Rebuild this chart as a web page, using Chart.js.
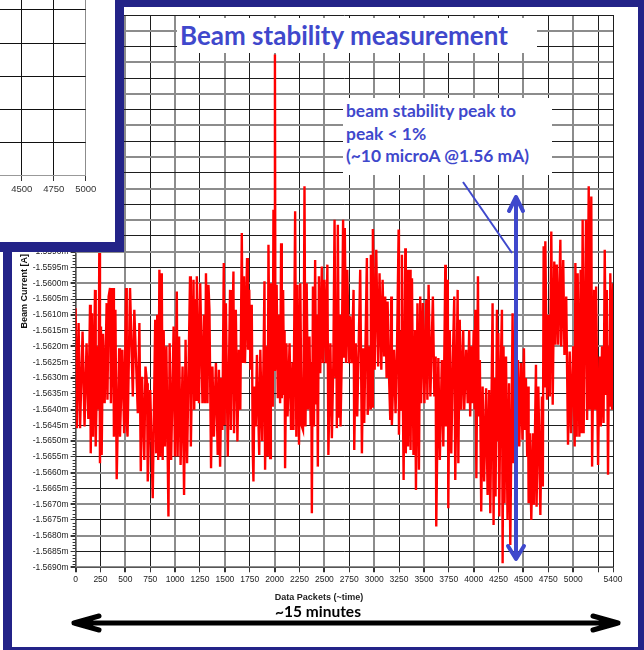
<!DOCTYPE html>
<html>
<head>
<meta charset="utf-8">
<script src="https://cdn.jsdelivr.net/npm/chart.js@4.4.0/dist/chart.umd.min.js"></script>
<style>
  html, body { margin: 0; padding: 0; }
  body { width: 644px; height: 650px; position: relative; overflow: hidden; background: #fff; }
  #frame { position: absolute; left: 3px; top: 0; width: 641px; height: 650px; background: #232388; }
  #panel { position: absolute; left: 9px; top: 7px; width: 626px; height: 640px; background: #fff; }
  #main { position: absolute; left: 0; top: 0; }
  #inset { position: absolute; left: 0; top: 0; width: 115px; height: 242px; background: #fff;
           border-right: 9px solid #232388; border-bottom: 10px solid #232388; overflow: hidden; }
  #insetChart { position: absolute; left: -60px; top: -40px; }
  .box { position: absolute; background: #fff; color: #3f48cc; font-family: 'Lato', 'Noto Sans', sans-serif;
         font-weight: bold; box-sizing: border-box; white-space: nowrap; }
  #title { left: 177px; top: 18px; width: 360px; height: 35px; font-size: 26px; line-height: 35px; padding-left: 3px; }
  #note { left: 343px; top: 98px; width: 209px; height: 77px; font-size: 17.4px; line-height: 22.5px; padding: 2px 0 0 3px; }
  .txt { position: absolute; white-space: nowrap; transform: translate(-50%, -50%); }
  #xtitle { left: 319px; top: 597px; font: bold 9px 'Liberation Sans', Arial, sans-serif; color: #222; }
  #duration { left: 318px; top: 611px; font: bold 15.5px 'Lato', 'Noto Sans', sans-serif; color: #000; }
</style>
</head>
<body>
<div id="frame"><div id="panel"></div></div>
<canvas id="main" width="644" height="650"></canvas>
<div id="inset"><canvas id="insetChart" width="160" height="240"></canvas></div>
<div class="box" id="title">Beam stability measurement</div>
<div class="box" id="note">beam stability peak to<br>peak &lt; 1%<br>(~10 microA @1.56 mA)</div>
<div class="txt" id="xtitle">Data Packets (~time)</div>
<div class="txt" id="duration">~15 minutes</div>
<script>
// data packet number and beam current (mA)
const packets = [
  0, 12, 30, 45, 70, 90, 110, 128, 145, 152,
  165, 175, 195, 202, 220, 230, 238, 245, 255, 262,
  275, 292, 312, 320, 332, 346, 355, 378, 385, 400,
  413, 438, 446, 470, 488, 507, 514, 522, 547, 575,
  590, 625, 641, 655, 668, 690, 702, 718, 725, 750,
  775, 800, 810, 820, 830, 842, 850, 866, 875, 885,
  898, 912, 933, 945, 960, 985, 998, 1017, 1025, 1040,
  1055, 1075, 1090, 1105, 1120, 1150, 1158, 1185, 1192, 1200,
  1210, 1218, 1240, 1252, 1275, 1290, 1300, 1310, 1325, 1335,
  1345, 1361, 1375, 1390, 1410, 1428, 1440, 1452, 1465, 1475,
  1489, 1497, 1510, 1529, 1552, 1560, 1586, 1592, 1610, 1626,
  1640, 1655, 1670, 1680, 1692, 1702, 1723, 1732, 1745, 1757,
  1770, 1780, 1787, 1797, 1810, 1822, 1845, 1856, 1875, 1888,
  1898, 1904, 1920, 1930, 1938, 1955, 1962, 1981, 1988, 1995,
  2003, 2008, 2020, 2032, 2045, 2055, 2065, 2072, 2085, 2095,
  2100, 2105, 2118, 2130, 2150, 2165, 2180, 2189, 2206, 2218,
  2230, 2245, 2258, 2270, 2285, 2292, 2300, 2310, 2322, 2335,
  2350, 2362, 2368, 2374, 2385, 2395, 2407, 2417, 2425, 2434,
  2445, 2458, 2474, 2485, 2500, 2515, 2530, 2540, 2560, 2575,
  2590, 2602, 2612, 2620, 2625, 2635, 2648, 2655, 2662, 2675,
  2688, 2698, 2705, 2718, 2730, 2748, 2760, 2775, 2793, 2800,
  2815, 2830, 2860, 2877, 2890, 2900, 2927, 2935, 2955, 2962,
  2967, 2980, 2987, 3005, 3021, 3040, 3054, 3072, 3085, 3100,
  3111, 3125, 3135, 3150, 3162, 3172, 3178, 3200, 3215, 3230,
  3246, 3249, 3262, 3270, 3279, 3288, 3296, 3313, 3318, 3336,
  3340, 3363, 3366, 3380, 3395, 3410, 3420, 3435, 3450, 3463,
  3472, 3490, 3505, 3524, 3535, 3547, 3565, 3590, 3605, 3618,
  3624, 3645, 3660, 3680, 3695, 3715, 3720, 3740, 3745, 3760,
  3775, 3790, 3805, 3815, 3839, 3846, 3860, 3875, 3895, 3905,
  3925, 3940, 3955, 3965, 3975, 3985, 4000, 4010, 4016, 4027,
  4043, 4050, 4062, 4076, 4090, 4105, 4125, 4140, 4155, 4167,
  4190, 4200, 4210, 4220, 4234, 4240, 4248, 4257, 4270, 4284,
  4291, 4300, 4310, 4325, 4340, 4355, 4368, 4391, 4400, 4415,
  4428, 4445, 4458, 4475, 4490, 4505, 4512, 4525, 4538, 4546,
  4552, 4565, 4579, 4595, 4605, 4626, 4632, 4650, 4670, 4686,
  4695, 4703, 4712, 4720, 4737, 4750, 4765, 4780, 4794, 4810,
  4822, 4835, 4850, 4871, 4880, 4900, 4912, 4930, 4948, 4965,
  4978, 5000, 5015, 5022, 5035, 5045, 5062, 5075, 5085, 5095,
  5105, 5129, 5140, 5156, 5165, 5182, 5190, 5210, 5220, 5230,
  5250, 5265, 5278, 5290, 5305, 5317, 5330, 5338, 5350, 5360,
  5366, 5373, 5390, 5400
];
const beamCurrent = [
  -1.56079, -1.56459, -1.56126, -1.56459, -1.56153, -1.56454, -1.56190, -1.56430, -1.56068, -1.56539,
  -1.56095, -1.56486, -1.56021, -1.56517, -1.56200, -1.56400, -1.55904, -1.56570, -1.56137, -1.56544,
  -1.56160, -1.56380, -1.56063, -1.56369, -1.56042, -1.56015, -1.56380, -1.56015, -1.56486, -1.56084,
  -1.56621, -1.56206, -1.56486, -1.56211, -1.56475, -1.56015, -1.56443, -1.56486, -1.56015, -1.56359,
  -1.56084, -1.56412, -1.56126, -1.56596, -1.56296, -1.56560, -1.56264, -1.56317, -1.56628, -1.56338,
  -1.56681, -1.56116, -1.56539, -1.56100, -1.56560, -1.55957, -1.56549, -1.55968, -1.56560, -1.56148,
  -1.56517, -1.56200, -1.56739, -1.56190, -1.56560, -1.56137, -1.56549, -1.56026, -1.56549, -1.56169,
  -1.56576, -1.56264, -1.56671, -1.56179, -1.56570, -1.55978, -1.56517, -1.55989, -1.56401, -1.56050,
  -1.56369, -1.55978, -1.56380, -1.56000, -1.56380, -1.56100, -1.56380, -1.55968, -1.56380, -1.56005,
  -1.56084, -1.56586, -1.56264, -1.56486, -1.56253, -1.56544, -1.56274, -1.56581, -1.56300, -1.56465,
  -1.55936, -1.56450, -1.56063, -1.56549, -1.56021, -1.56465, -1.55963, -1.56475, -1.56084, -1.56501,
  -1.56211, -1.56401, -1.55841, -1.56253, -1.55978, -1.56253, -1.55920, -1.56211, -1.56021, -1.56274,
  -1.56068, -1.56528, -1.56628, -1.56327, -1.56454, -1.56227, -1.56544, -1.56211, -1.56500, -1.56250,
  -1.55994, -1.56591, -1.56200, -1.56549, -1.55878, -1.56554, -1.56000, -1.56391, -1.55767, -1.56274,
  -1.55275, -1.56274, -1.56005, -1.56364, -1.56100, -1.56380, -1.55873, -1.56364, -1.56021, -1.56350,
  -1.56150, -1.56586, -1.56190, -1.56422, -1.56190, -1.56465, -1.56250, -1.56465, -1.55772, -1.56486,
  -1.56005, -1.56512, -1.56000, -1.56450, -1.56465, -1.56250, -1.55693, -1.56454, -1.56000, -1.56400,
  -1.56169, -1.56450, -1.56250, -1.56729, -1.56010, -1.56454, -1.55926, -1.56380, -1.56100, -1.56581,
  -1.55978, -1.56285, -1.55947, -1.56253, -1.55989, -1.56253, -1.55941, -1.56544, -1.56190, -1.56491,
  -1.56250, -1.55799, -1.56300, -1.56100, -1.56459, -1.55815, -1.56422, -1.56100, -1.56454, -1.56232,
  -1.55799, -1.56232, -1.55825, -1.56253, -1.55957, -1.56253, -1.56105, -1.56253, -1.56021, -1.56528,
  -1.56190, -1.56422, -1.55957, -1.56539, -1.56206, -1.56443, -1.55920, -1.56417, -1.56200, -1.56396,
  -1.55910, -1.56391, -1.55828, -1.56274, -1.55894, -1.56264, -1.55968, -1.56274, -1.55989, -1.56232,
  -1.56042, -1.56300, -1.56058, -1.56300, -1.56433, -1.56042, -1.56449, -1.56211, -1.56412, -1.56200,
  -1.55830, -1.56480, -1.56150, -1.56400, -1.55910, -1.56350, -1.56623, -1.55889, -1.56539, -1.55957,
  -1.56517, -1.55957, -1.56528, -1.55984, -1.56544, -1.56148, -1.56655, -1.56063, -1.56591, -1.56042,
  -1.56380, -1.56063, -1.56380, -1.56052, -1.56369, -1.56005, -1.56359, -1.56042, -1.56359, -1.56232,
  -1.56771, -1.56237, -1.56560, -1.56243, -1.56517, -1.55941, -1.56454, -1.55989, -1.56713, -1.56148,
  -1.56539, -1.56250, -1.56042, -1.56623, -1.56021, -1.56570, -1.56116, -1.56401, -1.56148, -1.56401,
  -1.56211, -1.56380, -1.56148, -1.56422, -1.56200, -1.56380, -1.56148, -1.56400, -1.56084, -1.56618,
  -1.55978, -1.56422, -1.56243, -1.56723, -1.56327, -1.56628, -1.56333, -1.56671, -1.56338, -1.56729,
  -1.56063, -1.56766, -1.56300, -1.56676, -1.56084, -1.56500, -1.56158, -1.56739, -1.56300, -1.56084,
  -1.56887, -1.56200, -1.56697, -1.56232, -1.56750, -1.56317, -1.56829, -1.56095, -1.56570, -1.56148,
  -1.56539, -1.56243, -1.56517, -1.56253, -1.56496, -1.56206, -1.56465, -1.56300, -1.56550, -1.56327,
  -1.56697, -1.56475, -1.56750, -1.56475, -1.56702, -1.56258, -1.56708, -1.56327, -1.56734, -1.56359,
  -1.56644, -1.55883, -1.56330, -1.55867, -1.56369, -1.56100, -1.56359, -1.55836, -1.56385, -1.55931,
  -1.56195, -1.55941, -1.56195, -1.55862, -1.56200, -1.55926, -1.56227, -1.56042, -1.56512, -1.56216,
  -1.56475, -1.56200, -1.56517, -1.55936, -1.56486, -1.55968, -1.56486, -1.55957, -1.56475, -1.55799,
  -1.56475, -1.55799, -1.56433, -1.55693, -1.56400, -1.55725, -1.56581, -1.56021, -1.56401, -1.56010,
  -1.56576, -1.56232, -1.56454, -1.56200, -1.56443, -1.55894, -1.56350, -1.56021, -1.56607, -1.56200,
  -1.56391, -1.55968, -1.56401, -1.56000
];

// axis ticks
const xTicks = [0, 250, 500, 750, 1000, 1250, 1500, 1750, 2000, 2250, 2500, 2750, 3000,
                3250, 3500, 3750, 4000, 4250, 4500, 4750, 5000, 5250, 5400];
const xUnlabelled = [5250];
const yTicks = [-1.5690, -1.5685, -1.5680, -1.5675, -1.5670, -1.5665, -1.5660, -1.5655, -1.5650,
                -1.5645, -1.5640, -1.5635, -1.5630, -1.5625, -1.5620, -1.5615, -1.5610, -1.5605,
                -1.5600, -1.5595, -1.5590, -1.5585, -1.5580, -1.5575, -1.5570, -1.5565, -1.5560,
                -1.5555, -1.5550, -1.5545, -1.5540, -1.5535, -1.5530, -1.5525, -1.5520, -1.5515];

// the cropped chart lying over the top-left corner
const insetXTicks = [4000, 4250, 4500, 4750, 5000];
const insetYTicks = [0, 1, 2, 3, 4, 5, 6];

const BLUE = '#3f48cc';
const tickFont = { family: 'Liberation Sans', size: 8.5 };

// minor ticks on y, and the paint-style arrows on top
const overlay = {
  id: 'overlay',
  afterDraw(chart) {
    const c = chart.ctx;
    const area = chart.chartArea;
    const ys = chart.scales.y;
    c.save();
    c.strokeStyle = '#333';
    c.lineWidth = 1;
    for (let i = 0; i < yTicks.length - 1; i++) {
      for (let k = 1; k < 5; k++) {
        const v = yTicks[i] + (yTicks[i + 1] - yTicks[i]) * k / 5;
        const y = Math.round(ys.getPixelForValue(v)) + 0.5;
        c.beginPath();
        c.moveTo(area.left - 3, y);
        c.lineTo(area.left, y);
        c.stroke();
      }
    }

    // pointer line from the note
    c.strokeStyle = BLUE;
    c.lineWidth = 2;
    c.beginPath();
    c.moveTo(463, 182);
    c.lineTo(512, 253);
    c.stroke();

    // vertical double arrow (peak to peak)
    c.lineWidth = 4;
    c.lineCap = 'round';
    c.lineJoin = 'round';
    c.beginPath();
    c.moveTo(516, 197);
    c.lineTo(516, 558);
    c.moveTo(509, 211);
    c.lineTo(516, 197);
    c.lineTo(523, 211);
    c.moveTo(508, 546);
    c.lineTo(516, 559);
    c.lineTo(524, 546);
    c.stroke();

    // black time arrow
    c.strokeStyle = '#000';
    c.lineWidth = 5;
    c.beginPath();
    c.moveTo(74, 623);
    c.lineTo(618, 623);
    c.moveTo(99, 616);
    c.lineTo(74, 623);
    c.lineTo(99, 630);
    c.moveTo(593, 616);
    c.lineTo(618, 623);
    c.lineTo(593, 630);
    c.stroke();
    c.restore();
  }
};

new Chart(document.getElementById('main'), {
  type: 'line',
  data: {
    datasets: [{
      data: packets.map((p, i) => ({ x: p, y: beamCurrent[i] })),
      borderColor: '#ff0000',
      borderWidth: 2.4,
      pointRadius: 0,
      tension: 0
    }]
  },
  options: {
    responsive: false,
    animation: false,
    devicePixelRatio: 1,
    layout: { padding: { left: 18.9, top: 15, right: 31, bottom: 42.7 } },
    plugins: { legend: { display: false }, tooltip: { enabled: false } },
    scales: {
      x: {
        type: 'linear',
        min: 0,
        max: 5400,
        afterBuildTicks: s => { s.ticks = xTicks.map(v => ({ value: v })); },
        afterFit: s => { s.height = 40; },
        ticks: {
          autoSkip: false,
          maxRotation: 0,
          padding: 2,
          color: '#222',
          font: tickFont,
          callback: v => xUnlabelled.includes(v) ? '' : String(v)
        },
        grid: {
          color: ctx => (ctx.tick && ctx.tick.value % 500 === 0) ? '#8c8c8c' : '#1e1e1e',
          lineWidth: ctx => (ctx.tick && ctx.tick.value % 500 === 0) ? 2 : 1,
          tickLength: 5,
          tickColor: '#333'
        },
        border: { color: '#555', width: 1 }
      },
      y: {
        min: -1.5690,
        max: -1.5515,
        afterBuildTicks: s => { s.ticks = yTicks.map(v => ({ value: v })); },
        afterFit: s => { s.width = 56.7; },
        ticks: {
          padding: 2,
          color: '#222',
          font: tickFont,
          callback: v => v.toFixed(4) + 'm'
        },
        grid: {
          color: ctx => (ctx.tick && Math.round(-ctx.tick.value * 10000) % 10 === 0) ? '#8c8c8c' : '#1e1e1e',
          lineWidth: ctx => (ctx.tick && Math.round(-ctx.tick.value * 10000) % 10 === 0) ? 2 : 1,
          tickLength: 5,
          tickColor: '#333'
        },
        border: { color: '#555', width: 1 },
        title: {
          display: true,
          text: 'Beam Current [A]',
          color: '#111',
          padding: 0,
          font: { family: 'Liberation Sans', size: 9, weight: 'bold' }
        }
      }
    }
  },
  plugins: [overlay]
});

// inset: only its lower-right corner shows
new Chart(document.getElementById('insetChart'), {
  type: 'line',
  data: { datasets: [{ data: [] }] },
  options: {
    responsive: false,
    animation: false,
    devicePixelRatio: 1,
    layout: { padding: { left: 17.7, top: 17, right: 14.3, bottom: 0 } },
    plugins: { legend: { display: false }, tooltip: { enabled: false } },
    scales: {
      x: {
        type: 'linear',
        min: 4000,
        max: 5000,
        afterBuildTicks: s => { s.ticks = insetXTicks.map(v => ({ value: v })); },
        afterFit: s => { s.height = 25; },
        ticks: { autoSkip: false, maxRotation: 0, padding: 3, color: '#333',
                 font: { family: 'Liberation Sans', size: 9.5 },
                 callback: v => String(v) },
        grid: {
          color: ctx => (ctx.tick && ctx.tick.value === 5000) ? '#8c8c8c' : '#111',
          tickLength: 6,
          tickColor: '#333'
        },
        border: { color: '#999' }
      },
      y: {
        min: 0,
        max: 6,
        afterBuildTicks: s => { s.ticks = insetYTicks.map(v => ({ value: v })); },
        afterFit: s => { s.width = 0; },
        ticks: { display: false },
        grid: { color: '#111', drawTicks: false },
        border: { display: false }
      }
    }
  }
});
</script>
</body>
</html>
